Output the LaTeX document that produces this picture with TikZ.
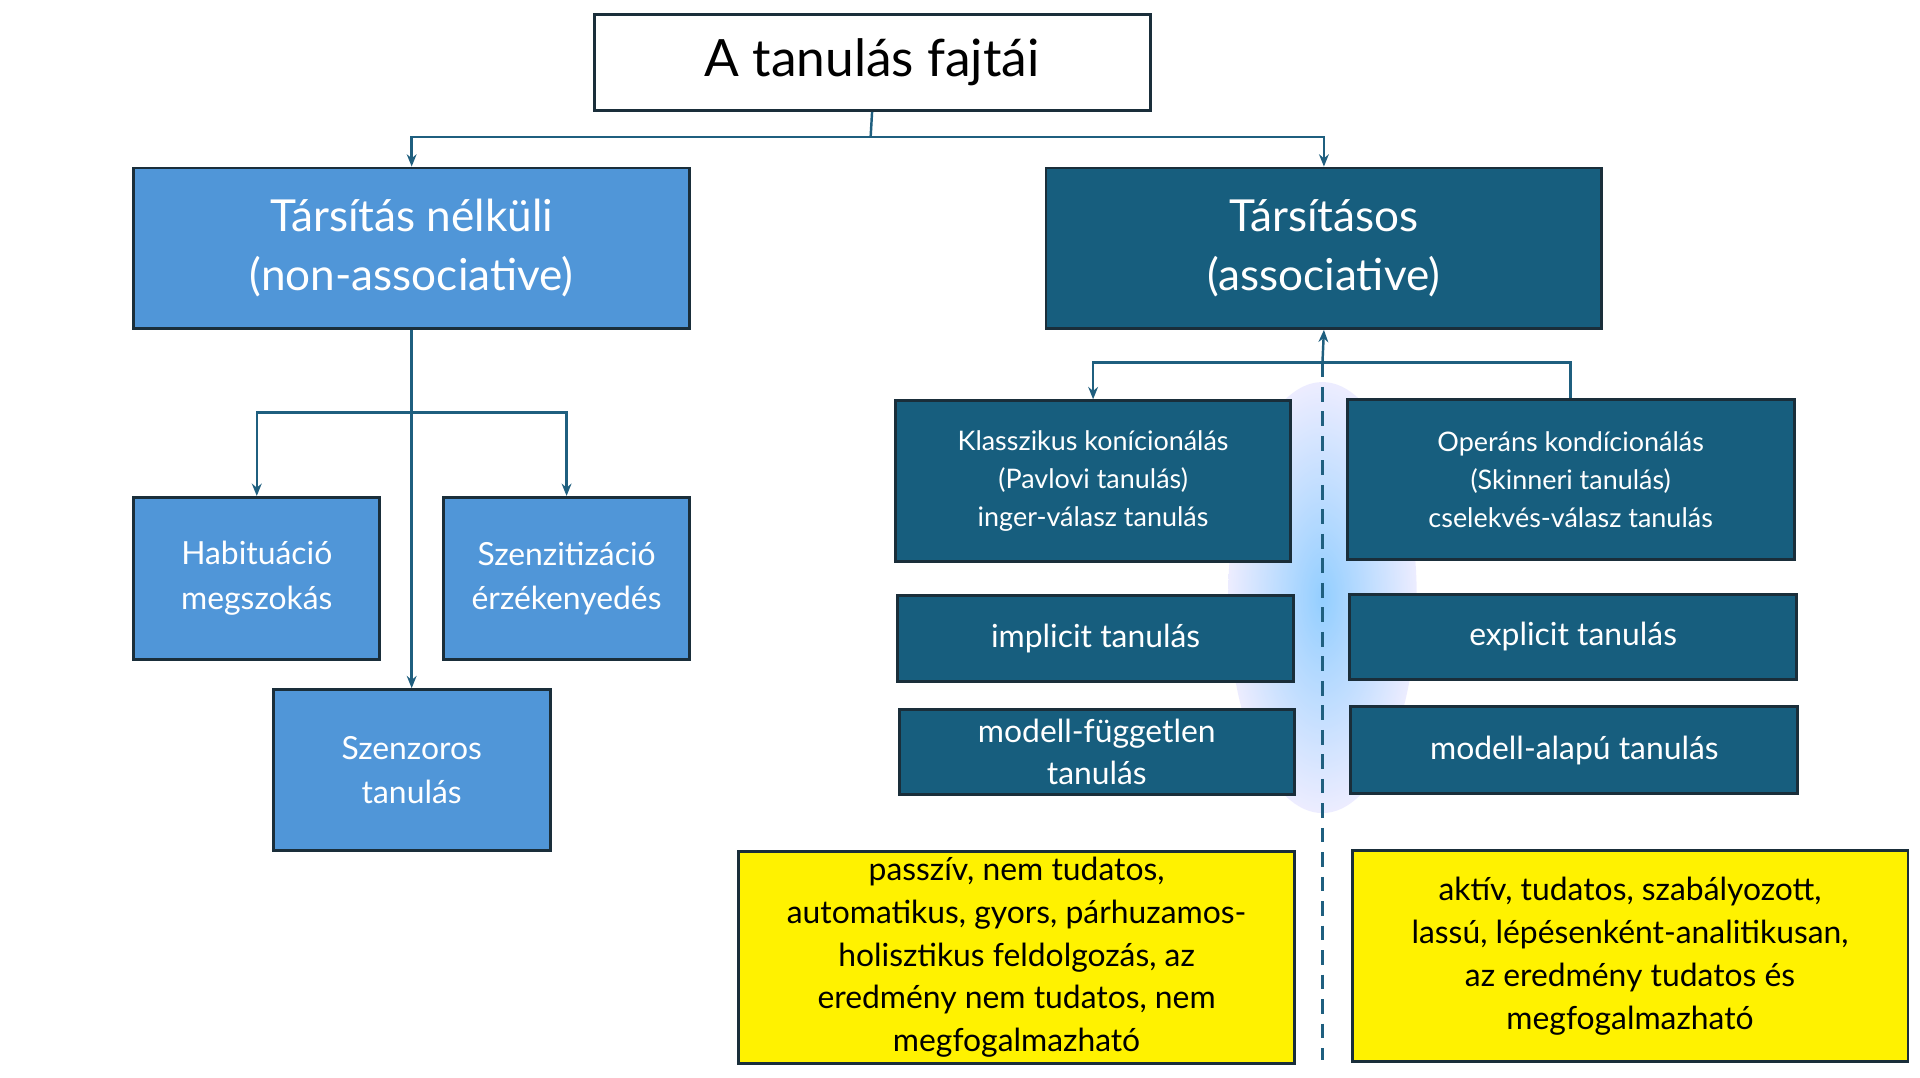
\documentclass[tikz,border=0pt]{standalone}
\usepackage{fontspec}
\setmainfont{Lato}
\usetikzlibrary{arrows.meta,shadings}
\definecolor{lblue}{HTML}{5096D8}
\definecolor{dblue}{HTML}{175E7E}
\definecolor{conn}{HTML}{1F5F7F}
\definecolor{bord}{HTML}{1A2E3A}
\tikzset{
 bx/.style={draw=bord,line width=1.2pt,inner sep=0pt,align=center,text=white},
 lb/.style={bx,fill=lblue},
 db/.style={bx,fill=dblue},
 yb/.style={bx,fill=yellow,text=black,font=\fontsize{13}{17.5}\selectfont},
 ar/.style={conn,line width=1pt,-{Stealth[length=5pt,width=4pt]}},
 ln/.style={conn,line width=1pt}
}
\newcommand{\boxat}[6]{\node[#1,minimum width=#4*0.5pt-#2*0.5pt,minimum height=#5*0.5pt-#3*0.5pt,anchor=north west] (#6) at (#2,#3)}
\begin{document}
\begin{tikzpicture}[x=0.5pt,y=-0.5pt]
\useasboundingbox (0,0) rectangle (1568,880);
\fill[white] (0,0) rectangle (1568,880);
% glow
\shade[inner color=blue!45!cyan!60!white,outer color=blue!10!white,opacity=0.7] (1080,488) ellipse (77 and 176);
\boxat{bx,text=black,font=\fontsize{21}{25}\selectfont}{484}{11}{938}{89}{t}{A tanulás fajtái};
\boxat{lb,font=\fontsize{18}{24}\selectfont}{108}{136}{562}{267}{na}{Társítás nélküli\\(non-associative)};
\boxat{db,font=\fontsize{18}{24}\selectfont}{853}{136}{1307}{267}{as}{Társításos\\(associative)};
\boxat{lb,font=\fontsize{13}{18}\selectfont}{108}{405}{309}{537}{hab}{Habituáció\\megszokás};
\boxat{lb,font=\fontsize{13}{18}\selectfont}{361}{405}{562}{537}{sze}{Szenzitizáció\\érzékenyedés};
\boxat{lb,font=\fontsize{13}{18}\selectfont}{222}{562}{448}{693}{szo}{Szenzoros\\tanulás};
\boxat{db,font=\fontsize{11}{15.5}\selectfont}{730}{326}{1053}{457}{kl}{Klasszikus konícionálás\\(Pavlovi tanulás)\\inger-válasz tanulás};
\boxat{db,font=\fontsize{11}{15.5}\selectfont}{1099}{325}{1464}{456}{op}{Operáns kondícionálás\\(Skinneri tanulás)\\cselekvés-válasz tanulás};
\boxat{db,font=\fontsize{13}{17}\selectfont}{732}{485}{1055}{555}{im}{implicit tanulás};
\boxat{db,font=\fontsize{13}{17}\selectfont}{1101}{484}{1466}{554}{ex}{explicit tanulás};
\boxat{db,font=\fontsize{13}{17}\selectfont}{733}{578}{1056}{648}{mf}{modell-független\\tanulás};
\boxat{db,font=\fontsize{13}{17}\selectfont}{1102}{576}{1467}{647}{ma}{modell-alapú tanulás};
\boxat{yb}{602}{694}{1056}{867}{yl}{passzív, nem tudatos,\\automatikus, gyors, párhuzamos-\\holisztikus feldolgozás, az\\eredmény nem tudatos, nem\\megfogalmazható};
\boxat{yb}{1103}{693}{1557}{866}{yr}{aktív, tudatos, szabályozott,\\lassú, lépésenként-analitikusan,\\az eredmény tudatos és\\megfogalmazható};
% connectors
\coordinate (j1) at (711,112);
\draw[ln] (t.south) -- (j1);
\draw[ar] (j1) -| (na.north);
\draw[ar] (j1) -| (as.north);
\draw[ar] (na.south) -- (szo.north);
\coordinate (j2) at (335,337);
\draw[ar] (j2) -| (hab.north);
\draw[ar] (j2) -| (sze.north);
\coordinate (j3) at (1080,296);
\draw[ar] (j3) -- (as.south);
\draw[ar] (j3) -| (kl.north);
\draw[ln] (j3) -| (op.north);
\coordinate (j4) at (1080,866);
\draw[ln,dashed,dash pattern=on 6pt off 4pt] (j3) -- (j4);
\end{tikzpicture}
\end{document}
